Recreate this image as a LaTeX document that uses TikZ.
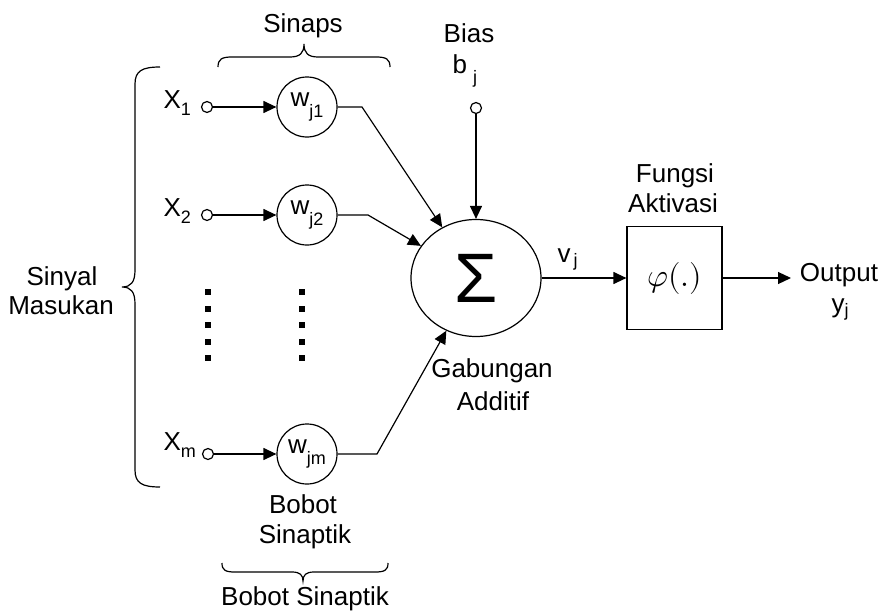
\documentclass[tikz,border=0pt]{standalone}
\usepackage{fontspec}
\usepackage{unicode-math}
\setmainfont{Liberation Sans}
\setmathfont{Latin Modern Math}
\usetikzlibrary{arrows.meta,shapes.geometric}
\newcommand{\sbx}[2][-7pt]{\raisebox{#1}{\fontsize{18}{18}\selectfont #2}}
\begin{document}
\begin{tikzpicture}[x=1pt,y=-1pt,
  line width=1.2pt,
  lbl/.style={font=\fontsize{26}{28}\selectfont, inner sep=0pt, anchor=base},
  lblw/.style={font=\fontsize{26}{28}\selectfont, inner sep=0pt, anchor=base west},
  inport/.style={circle,draw,minimum size=11pt,inner sep=0pt},
  wnode/.style={circle,draw,minimum size=60pt,inner sep=0pt,font=\fontsize{26}{28}\selectfont},
  arr/.style={-{Triangle[length=13pt,width=12pt]}},
  sqdot/.style={fill=black}
]
\useasboundingbox (0,0) rectangle (884,613);

% top brace and label
\node[lbl] (sinaps) at (303,32) {Sinaps};
\draw (218,67) .. controls (218,59) and (222,57) .. (232,57) -- (290,57)
  .. controls (300,57) and (304,53) .. (304,44)
  .. controls (304,53) and (308,57) .. (318,57) -- (376,57)
  .. controls (386,57) and (390,59) .. (390,67);

% left brace and label
\draw (160,67) .. controls (142,67) and (135,71) .. (135,84) -- (135,270)
  .. controls (135,282) and (131,287) .. (122,287)
  .. controls (131,287) and (135,292) .. (135,304) -- (135,470)
  .. controls (135,483) and (142,487) .. (160,487);
\node[lbl] (sinyal) at (62,285) {Sinyal};
\node[lbl] (masukan) at (61,314) {Masukan};

% inputs
\node[lblw] (x1) at (163,108) {X\sbx{1}};
\node[lblw] (x2) at (163,216) {X\sbx{2}};
\node[lblw] (xm) at (163,450) {X\sbx{m}};
\node[inport] (i1) at (207,107) {};
\node[inport] (i2) at (207,215) {};
\node[inport] (im) at (208,454) {};

% weights
\node[wnode] (w1) at (307,107) {w\sbx[-11pt]{j1}};
\node[wnode] (w2) at (307,215) {w\sbx[-11pt]{j2}};
\node[wnode] (wm) at (307,454) {w\sbx[-11pt]{jm}};

\draw[arr] (i1) -- (w1);
\draw[arr] (i2) -- (w2);
\draw[arr] (im) -- (wm);

% dots
\foreach \yy in {292,309,325,342,358}{
  \fill[sqdot] (205.3,\yy-2.7) rectangle ++(5.5,5.5);
  \fill[sqdot] (299.3,\yy-2.7) rectangle ++(5.5,5.5);
}

% summing junction
\node[ellipse,draw,minimum width=130pt,minimum height=117pt,inner sep=0pt,
  font=\fontsize{70}{70}\selectfont] (sig) at (476,278) {Σ};

\coordinate (c1) at (362,107);
\coordinate (c2) at (368,215);
\coordinate (cm) at (377,454);
\draw[arr] (w1.east) -- (c1) -- (sig);
\draw[arr] (w2.east) -- (c2) -- (sig);
\draw[arr] (wm.east) -- (cm) -- (sig);

% bias
\node[lbl] (bias) at (469,42) {Bias};
\node[lblw] (bj) at (452,73) {b\hspace{6pt}\sbx[-10pt]{j}};
\node[inport] (bi) at (476,108) {};
\draw[arr] (bi) -- (sig.north);

\node[lbl] (gab) at (492,377) {Gabungan};
\node[lbl] (add) at (493,410) {Additif};

% activation
\node[draw,rectangle,minimum width=95pt,minimum height=103pt,inner sep=0pt,
  font=\fontsize{32}{32}\selectfont] (phi) at (674.5,278) {$\varphi(.)$};
\node[lbl] (fungsi) at (675,182) {Fungsi};
\node[lbl] (aktivasi) at (673,212) {Aktivasi};
\draw[arr] (sig.east) -- (phi.west);
\node[lblw] (vj) at (557,262) {v\hspace{3pt}\sbx[-4pt]{j}};

% output
\coordinate (outend) at (791,278);
\draw[arr] (phi.east) -- (outend);
\node[lbl] (output) at (839,281) {Output};
\node[lbl] (yj) at (840,312) {y\sbx[-4pt]{j}};

% bottom labels and brace
\node[lbl] (bobot) at (303,513) {Bobot};
\node[lbl] (sinaptik) at (305,543) {Sinaptik};
\draw (222,563) .. controls (222,570) and (225,572) .. (235,572) -- (292,572)
  .. controls (300,572) and (303,575) .. (303,581)
  .. controls (303,575) and (306,572) .. (314,572) -- (375,572)
  .. controls (385,572) and (388,570) .. (388,563);
\node[lbl] (bobotsin) at (305,605) {Bobot Sinaptik};
\end{tikzpicture}
\end{document}
